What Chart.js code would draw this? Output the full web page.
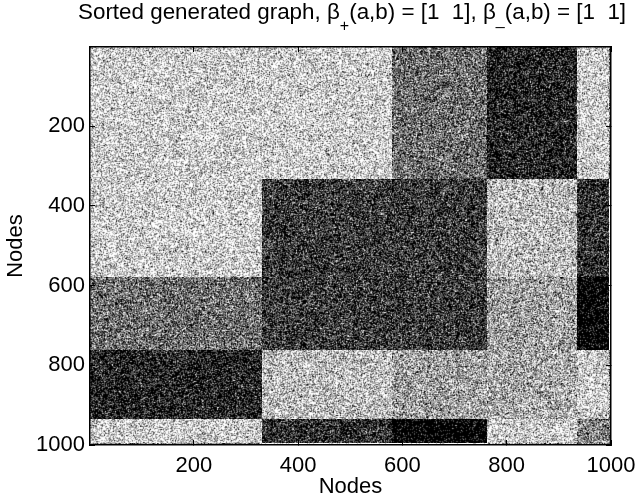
<!DOCTYPE html>
<html>
<head>
<meta charset="utf-8">
<script src="https://cdn.jsdelivr.net/npm/chart.js@4"></script>
<style>
  body { margin: 0; background: #fff; }
  canvas { display: block; }
</style>
</head>
<body>
<canvas id="graphChart" width="637" height="503"></canvas>
<script>
// Block edges along both axes
const nodeBreaks = [1, 333, 581, 763, 937, 997, 1000];
// Share of white in each block, one row per y band
const row1 = [0.78, 0.78, 0.43, 0.17, 0.78, 0.45];
const row2 = [0.78, 0.24, 0.24, 0.72, 0.21, 0.97];
const row3 = [0.43, 0.24, 0.24, 0.62, 0.06, 0.97];
const row4 = [0.17, 0.72, 0.62, 0.65, 0.78, 0.60];
const row5 = [0.78, 0.21, 0.06, 0.78, 0.52, 0.45];
const row6 = [0.55, 0.95, 0.95, 0.60, 0.50, 0.50];
const densityRows = [row1, row2, row3, row4, row5, row6];
const xTickValues = [200, 400, 600, 800, 1000];
const yTickValues = [200, 400, 600, 800, 1000];
const diagonalNodes = [340, 760];

const titleParts = [
    { text: 'Sorted generated graph, \u03b2', size: 22.4, base: 19 },
    { text: '+', size: 16, base: 31 },
    { text: '(a,b) = [1  1], \u03b2', size: 22.4, base: 19 },
    { text: '_', size: 16, base: 25 },
    { text: '(a,b) = [1  1]', size: 22.4, base: 19 }
];

const fontName = '"Liberation Sans", Arial, sans-serif';

// Fixed speckle for the texture only, the block values stay in the rows above
function speckle(seed) {
    let a = seed;
    return function () {
        a = (a + 0x6D2B79F5) | 0;
        let t = Math.imul(a ^ (a >>> 15), 1 | a);
        t = (t + Math.imul(t ^ (t >>> 7), 61 | t)) ^ t;
        return ((t ^ (t >>> 14)) >>> 0) / 4294967296;
    };
}

// Texture for one block, the mean gray follows the block density
function makeTexture(w, h, density, seed) {
    const next = speckle(seed);
    const bits = new Float32Array(w * h);
    for (let i = 0; i < bits.length; i++) {
        let hits = 0;
        for (let s = 0; s < 3; s++) {
            if (next() < density) hits++;
        }
        bits[i] = hits / 3 * 255;
    }
    const cv = document.createElement('canvas');
    cv.width = w;
    cv.height = h;
    const c = cv.getContext('2d');
    const img = c.createImageData(w, h);
    for (let y = 0; y < h; y++) {
        for (let x = 0; x < w; x++) {
            const l = bits[y * w + Math.max(x - 1, 0)];
            const r = bits[y * w + Math.min(x + 1, w - 1)];
            const u = bits[Math.max(y - 1, 0) * w + x];
            const d = bits[Math.min(y + 1, h - 1) * w + x];
            const v = bits[y * w + x] * 0.6 + (l + r + u + d) * 0.1;
            const p = (y * w + x) * 4;
            img.data[p] = img.data[p + 1] = img.data[p + 2] = v;
            img.data[p + 3] = 255;
        }
    }
    c.putImageData(img, 0, 0);
    return cv;
}

// One point per block, placed at the middle of the block
const cells = [];
densityRows.forEach((row, r) => {
    row.forEach((density, c) => {
        cells.push({
            x: (nodeBreaks[c] + nodeBreaks[c + 1]) / 2,
            y: (nodeBreaks[r] + nodeBreaks[r + 1]) / 2,
            x0: nodeBreaks[c],
            x1: nodeBreaks[c + 1],
            y0: nodeBreaks[r],
            y1: nodeBreaks[r + 1],
            density: density,
            seed: (r + 1) * 7919 + (c + 1) * 104729
        });
    });
});

const textures = {};
function cellStyle(ctx) {
    const cell = ctx.raw;
    // options also get resolved once before the layout is done
    if (!cell || !ctx.chart.chartArea) return 'rect';
    const key = cell.seed;
    if (!textures[key]) {
        const sx = ctx.chart.scales.x;
        const sy = ctx.chart.scales.y;
        const w = Math.ceil(Math.abs(sx.getPixelForValue(cell.x1) - sx.getPixelForValue(cell.x0))) + 1;
        const h = Math.ceil(Math.abs(sy.getPixelForValue(cell.y1) - sy.getPixelForValue(cell.y0))) + 1;
        textures[key] = makeTexture(w, h, cell.density, cell.seed);
    }
    return textures[key];
}

// Line the textures up with whole pixels, otherwise the browser smears them
const snapPlugin = {
    id: 'snapCells',
    afterDatasetsUpdate(chart) {
        chart.getDatasetMeta(0).data.forEach(el => {
            const tex = el.options.pointStyle;
            if (!tex || !tex.width) return;
            el.x = Math.round(el.x - tex.width / 2) + tex.width / 2;
            el.y = Math.round(el.y - tex.height / 2) + tex.height / 2;
        });
    }
};

// Title has subscripts, which the built in title can not do
const titlePlugin = {
    id: 'subscriptTitle',
    afterDraw(chart) {
        const c = chart.ctx;
        c.save();
        c.fillStyle = '#000';
        c.textBaseline = 'alphabetic';
        c.textAlign = 'left';
        let x = 78;
        titleParts.forEach(part => {
            c.font = part.size + 'px ' + fontName;
            c.fillText(part.text, x, part.base);
            x += c.measureText(part.text).width;
        });
        c.restore();
    }
};

function axisOptions(position, values, showLabels, size) {
    const horizontal = position === 'bottom' || position === 'top';
    return {
        type: 'linear',
        position: position,
        min: 1,
        max: 1000,
        reverse: !horizontal,
        afterBuildTicks: scale => { scale.ticks = values.map(v => ({ value: v })); },
        afterFit: scale => {
            if (horizontal) scale.height = size; else scale.width = size;
            scale.paddingLeft = scale.paddingRight = scale.paddingTop = scale.paddingBottom = 0;
        },
        grid: { drawOnChartArea: false, drawTicks: true, tickLength: -5, tickColor: '#000', tickWidth: 1, z: 1 },
        border: { display: true, color: '#000', width: 1.5, z: 1 },
        ticks: {
            display: showLabels,
            autoSkip: false,
            maxRotation: 0,
            color: '#000',
            padding: horizontal ? 13 : 10,
            font: { family: fontName, size: 22 },
            callback: v => String(v)
        },
        title: {
            display: showLabels,
            text: 'Nodes',
            color: '#000',
            padding: horizontal ? { bottom: 3 } : { top: 3 },
            font: { family: fontName, size: 22 }
        }
    };
}

new Chart(document.getElementById('graphChart').getContext('2d'), {
    type: 'scatter',
    data: {
        datasets: [
            {
                label: 'Blocks',
                data: cells,
                pointStyle: cellStyle,
                pointRadius: 1,
                pointHoverRadius: 1
            },
            {
                label: 'Diagonal',
                data: diagonalNodes.map(v => ({ x: v, y: v })),
                showLine: true,
                pointRadius: 0,
                borderColor: 'rgba(255,255,255,0.22)',
                borderWidth: 1,
                borderDash: [2, 3]
            }
        ]
    },
    options: {
        responsive: false,
        animation: false,
        layout: { autoPadding: false, padding: { top: 47, right: 26, left: 0, bottom: 0 } },
        plugins: { legend: { display: false }, tooltip: { enabled: false } },
        scales: {
            x: axisOptions('bottom', xTickValues, true, 58),
            y: axisOptions('left', yTickValues, true, 90),
            x2: axisOptions('top', xTickValues, false, 0),
            y2: axisOptions('right', yTickValues, false, 0)
        }
    },
    plugins: [snapPlugin, titlePlugin]
});
</script>
</body>
</html>
